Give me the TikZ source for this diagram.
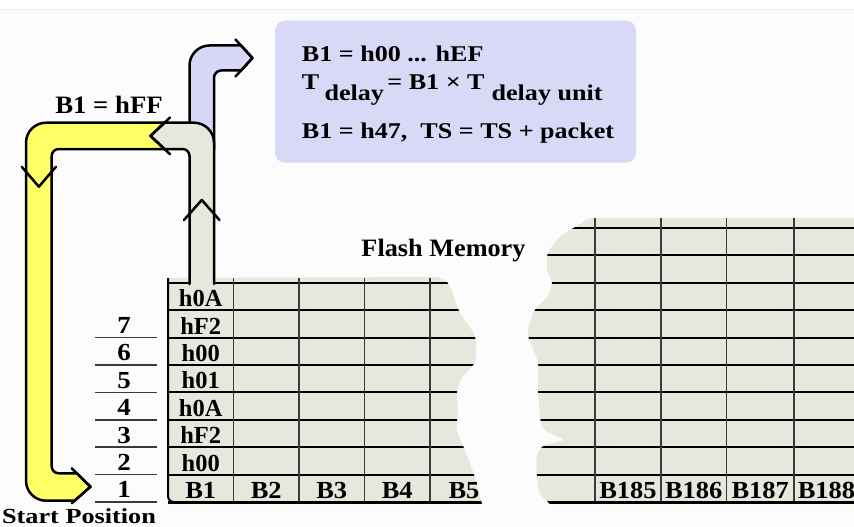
\documentclass[tikz,border=0pt]{standalone}
\usepackage{fontspec}
\setmainfont{Liberation Serif}
\usepackage{graphicx}
\definecolor{yellowC}{HTML}{FFFF66}
\definecolor{beigeC}{HTML}{E7E7DD}
\definecolor{bandblue}{HTML}{D7D7F8}
\definecolor{boxblue}{HTML}{D9D9F7}
\definecolor{bgC}{HTML}{FCFCFC}
\definecolor{topC}{HTML}{F4F0E6}
\definecolor{vgray}{HTML}{3A3A3A}
\newcommand{\hs}[2]{\scalebox{#1}[1]{#2}}
\tikzset{
  txt/.style={font=\fontsize{22.5}{27}\selectfont\bfseries, inner sep=0pt, anchor=base},
  big/.style={font=\fontsize{24.5}{29}\selectfont\bfseries, inner sep=0pt, anchor=base},
  band/.style={draw=black, line width=2.5pt, line join=round, line cap=round},
  hline/.style={draw=black, line width=2pt},
  vline/.style={draw=vgray, line width=1.3pt},
  uline/.style={draw=vgray, line width=1.5pt},
  bline/.style={draw=black, line width=3pt},
}
\def\leftpiece{(168,278) -- (438,277) -- plot[smooth,tension=0.55] coordinates {(438,277) (446,281) (452,291) (460,313) (474,334) (476,350) (475,362) (462,378) (457,392) (458,410) (457,430) (466,453) (474,475) (482,504)} -- (168,504) -- cycle}
\def\rightpiece{(854,218) -- (596,218) -- plot[smooth,tension=0.55] coordinates {(596,218) (588,219) (580,224) (560,237) (548,253) (547,270) (552,283) (547,297) (535,310) (528,330) (530,342) (538,363) (538,387) (540,417) (545,430) (563,440) (545,445) (537,455) (537,477) (540,493) (550,504)} -- (854,504) -- cycle}
\begin{document}
\begin{tikzpicture}[x=1pt,y=-1pt]
\useasboundingbox (0,0) rectangle (854,527);
\fill[white] (0,0) rectangle (854,527);
\fill[bgC] (0,10) rectangle (854,527);
\draw[topC, line width=1pt] (0,10) -- (854,10);

% info box
\node[fill=boxblue, rounded corners=10pt, minimum width=361pt, minimum height=142pt, inner sep=0pt] (info) at (455.5,91.7) {};
\node[txt, anchor=base west] (l1) at (301.7,61.7) {\hs{1.16}{B1 = h00 ... hEF}};
\node[txt, anchor=base west] (l2) at (301.7,89.3) {\hs{1.16}{T\hspace{4.5pt}\raisebox{-10.7pt}{delay}\hspace{3pt}= B1 × T\hspace{6pt}\raisebox{-10.7pt}{delay unit}}};
\node[txt, anchor=base west] (l3) at (301.7,138.3) {\hs{1.16}{B1 = h47,\ \ TS = TS + packet}};

% left piece of the memory table
\fill[beigeC] \leftpiece;
\begin{scope}
  \clip \leftpiece;
  \foreach \y in {282.8,310.2,337.6,365,392.4,419.8,447.2,474.6}
    \draw[hline] (168,\y) -- (500,\y);
  \foreach \x in {233.5,299,364.5,430}
    \draw[vline] (\x,278) -- (\x,504);
  \draw[bline] (168,502) -- (500,502);
  \foreach \t [count=\i] in {h0A,hF2,h00,h01,h0A,hF2,h00}
    \node[big] (c\i) at (200.75,{282.8+27.4*(\i-1)+23.9}) {\t};
  \node[big] (b1) at (200.75,498.2) {\hs{1.08}{B1}};
  \node[big] (b2) at (266.25,498.2) {\hs{1.08}{B2}};
  \node[big] (b3) at (331.75,498.2) {\hs{1.08}{B3}};
  \node[big] (b4) at (397.25,498.2) {\hs{1.08}{B4}};
  \node[big] (b5) at (464,498.2) {\hs{1.08}{B5}};
\end{scope}
\draw[line width=2pt] (168,278) -- (168,496) .. controls (168,499.5) and (170.5,502) .. (174,502);

% right piece of the memory table
\fill[beigeC] \rightpiece;
\begin{scope}
  \clip \rightpiece;
  \foreach \y in {228,255.4,282.8,310.2,337.6,365,392.4,419.8,447.2,474.6}
    \draw[hline] (520,\y) -- (854,\y);
  \foreach \x in {595,661,726.5,794}
    \draw[vline] (\x,218) -- (\x,504);
  \draw[bline] (520,502) -- (854,502);
  \node[big] (b185) at (628,498.2) {\hs{1.08}{B185}};
  \node[big] (b186) at (693.75,498.2) {\hs{1.08}{B186}};
  \node[big] (b187) at (760.25,498.2) {\hs{1.08}{B187}};
  \node[big] (b188) at (826.5,498.2) {\hs{1.08}{B188}};
\end{scope}

% row numbers
\foreach \n [count=\i] in {7,6,5,4,3,2,1} {
  \node[big] (n\i) at (124,{310.2+27.4*(\i-1)+23.2}) {\hs{1.1}{\n}};
  \draw[uline] (95,{337.6+27.4*(\i-1)}) -- (157,{337.6+27.4*(\i-1)});
}

% blue band arrow
\filldraw[band, fill=bandblue] (189.5,150) -- (189.5,65.5) .. controls (189.5,54.5) and (198.5,45.5) .. (209.5,45.5) -- (241,45.5) -- (252.5,58) -- (241,70.5) -- (221,70.5) .. controls (217.1,70.5) and (214,74.4) .. (214,77.5) -- (214,150) -- cycle;
\draw[band] (235.5,39.5) -- (252.5,58) -- (235.5,76.5);

% yellow band arrow
\filldraw[band, fill=yellowC] (166,122.7) -- (46,122.7) .. controls (35,122.7) and (26,131.7) .. (26,142.7) -- (26,480.7) .. controls (26,491.7) and (35,500.7) .. (46,500.7) -- (74.6,500.7) -- (90.5,486.7) -- (76.8,473.3) -- (58.7,473.3) .. controls (54.8,473.3) and (51.7,470.2) .. (51.7,466.3) -- (51.7,156) .. controls (51.7,152.1) and (54.8,149) .. (58.7,149) -- (166,149) -- cycle;
\draw[band] (71.7,468.3) -- (90.5,486.7) -- (71.7,503.3);
\draw[band] (21.7,166.7) -- (38.85,186.7) -- (56,166.7);

% beige band arrow
\filldraw[band, fill=beigeC] (189.5,284) -- (189.5,156) .. controls (189.5,152.1) and (186.4,149) .. (182.5,149) -- (164.4,149) -- (150.5,135.9) -- (164.5,122.7) -- (194,122.7) .. controls (205,122.7) and (214,131.7) .. (214,142.7) -- (214,284);
\draw[band] (170,117.5) -- (150.5,135.9) -- (170,154.2);
\draw[band] (184,220) -- (201.75,200) -- (219.5,220);

% labels
\node[font=\fontsize{25}{30}\selectfont\bfseries, inner sep=0pt, anchor=base] (hff) at (109,113.3) {\hs{1.07}{B1 = hFF}};
\node[font=\fontsize{25}{30}\selectfont\bfseries, inner sep=0pt, anchor=base] (flash) at (443.5,256.7) {\hs{1.05}{Flash Memory}};
\node[font=\fontsize{21.5}{26}\selectfont\bfseries, inner sep=0pt, anchor=base] (start) at (79,523) {\hs{1.22}{Start Position}};
\end{tikzpicture}
\end{document}
